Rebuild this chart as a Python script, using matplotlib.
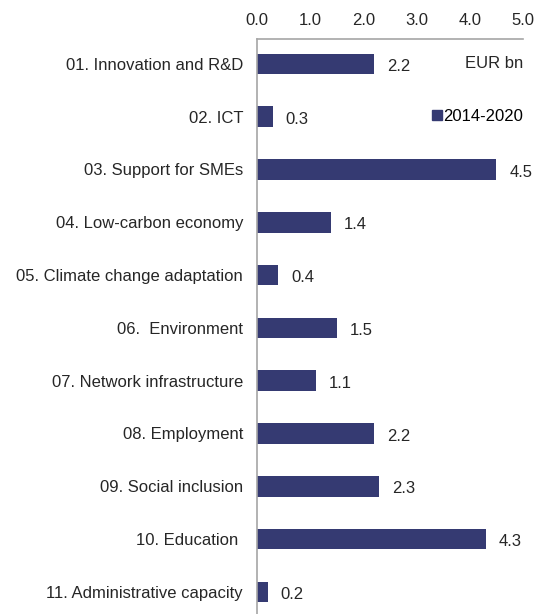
import matplotlib
matplotlib.use('Agg')
import matplotlib.pyplot as plt
from matplotlib.lines import Line2D

plt.rcParams['font.family'] = ['Liberation Sans', 'DejaVu Sans']

categories = ['01. Innovation and R&D', '02. ICT', '03. Support for SMEs',
              '04. Low-carbon economy', '05. Climate change adaptation',
              '06.  Environment', '07. Network infrastructure', '08. Employment',
              '09. Social inclusion', '10. Education ', '11. Administrative capacity']
values = [2.2, 0.3, 4.5, 1.4, 0.4, 1.5, 1.1, 2.2, 2.3, 4.3, 0.2]
value_labels = ['2.2', '0.3', '4.5', '1.4', '0.4', '1.5', '1.1', '2.2', '2.3', '4.3', '0.2']
xticks = [0, 1, 2, 3, 4, 5]
series_name = '2014-2020'

bar_color = '#353a72'
grey = '#a6a6a6'
txt = '#262626'
fs = 12

fig = plt.figure(figsize=(5.38, 6.14), dpi=100)
ax = fig.add_axes([257 / 538, 0, 266 / 538, 1 - 39 / 614])

y = list(range(len(categories)))
ax.barh(y, values, height=0.39, color=bar_color)
for yi, v, lab in zip(y, values, value_labels):
    ax.text(v + 0.24, yi + 0.05, lab, va='center', ha='left', fontsize=fs, color=txt)

ax.set_xlim(0, 5)
ax.set_ylim(10.42, -0.47)
ax.set_yticks(y)
ax.set_yticklabels(categories, fontsize=fs, color=txt)
ax.set_xticks(xticks)
ax.set_xticklabels([f'{t:.1f}' for t in xticks], fontsize=fs, color=txt)
ax.xaxis.tick_top()
ax.tick_params(axis='x', length=0, pad=8)
ax.tick_params(axis='y', length=0, pad=10)

for side in ['right', 'bottom']:
    ax.spines[side].set_visible(False)
for side in ['left', 'top']:
    ax.spines[side].set_color(grey)
    ax.spines[side].set_linewidth(1.2)

ax.text(1.0, 0.0, 'EUR bn', transform=ax.get_yaxis_transform(), ha='right', va='center',
        fontsize=fs, color=txt)

handle = Line2D([], [], marker='s', linestyle='none', color=bar_color, markersize=7)
ax.legend([handle], [series_name], loc='center right', bbox_to_anchor=(1.0, 1.0),
          bbox_transform=ax.get_yaxis_transform(), frameon=False, fontsize=fs,
          handletextpad=0.0, handlelength=0.7, borderpad=0, borderaxespad=0)

fig.savefig('out.png', dpi=100)
